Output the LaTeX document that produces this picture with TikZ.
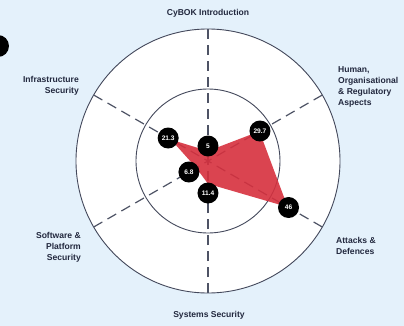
\documentclass[tikz,border=0pt]{standalone}
\usepackage{fontspec}
\setmainfont{Liberation Sans}
\definecolor{fondo}{RGB}{228,241,251}
\definecolor{tinta}{RGB}{34,40,62}
\definecolor{rojo}{RGB}{214,48,62}
\tikzset{
    eje/.style={tinta!80, line width=1.2bp, dash pattern=on 10bp off 6bp},
    aro/.style={draw=tinta!85, line width=0.9bp},
    valor/.style={circle, fill=black, text=white, inner sep=0pt, minimum size=21bp,
        font=\fontsize{6.6}{7}\selectfont\bfseries},
    rotulo/.style={text=tinta, font=\fontsize{8.6}{11}\selectfont\bfseries, inner sep=0pt}
}
\begin{document}
\begin{tikzpicture}[x=1bp, y=1bp]
            % fondo y limites
            \fill[fondo] (-208,-165) rectangle (196,161);
            \useasboundingbox (-208,-165) rectangle (196,161);
            \coordinate (c) at (0,0);

            % los dos aros
            \fill[white] (c) circle (132);
            \draw[aro] (c) circle (132);
            \draw[aro] (c) circle (72);

            % ejes discontinuos, desde el aro exterior hacia el centro
            \foreach \a in {30,90,...,330} {
                \coordinate (e\a) at (\a:132);
                \draw[eje] (e\a) -- (c);
            }

            % vertices del poligono, 2bp por unidad
            \foreach \a/\v [count=\i] in {90/5,30/29.7,-30/46,-90/11.4,-150/6.8,150/21.3}
                \coordinate (p\i) at (\a:{2*\v});
            \fill[rojo, opacity=0.9] (p1) -- (p2) -- (p3) -- (p4) -- (p5) -- (p6) -- cycle;

            % etiquetas con los valores
            \foreach \a/\d/\v [count=\i] in {90/15/5,30/60/29.7,-30/93/46,-90/32/11.4,-150/22/6.8,150/46/21.3}
                \node[valor] (n\i) at (\a:\d) {\v};

            % nombres de las areas
            \node[rotulo] (intro) at (0,148) {CyBOK Introduction};
            \node[rotulo, anchor=east, align=right] (infra) at (-129,75.5) {Infrastructure\\Security};
            \node[rotulo, anchor=west, align=left] (human) at (130,74) {Human,\\Organisational\\\& Regulatory\\Aspects};
            \node[rotulo, anchor=east, align=right] (soft) at (-127,-86.5) {Software \&\\Platform\\Security};
            \node[rotulo, anchor=west, align=left] (ataques) at (128,-84.5) {Attacks \&\\Defences};
            \node[rotulo] (sistemas) at (1,-154) {Systems Security};

            % punto negro del borde
            \node[circle, fill=black, minimum size=22bp, inner sep=0pt] (punto) at (-210,115) {};
        \end{tikzpicture}
\end{document}
